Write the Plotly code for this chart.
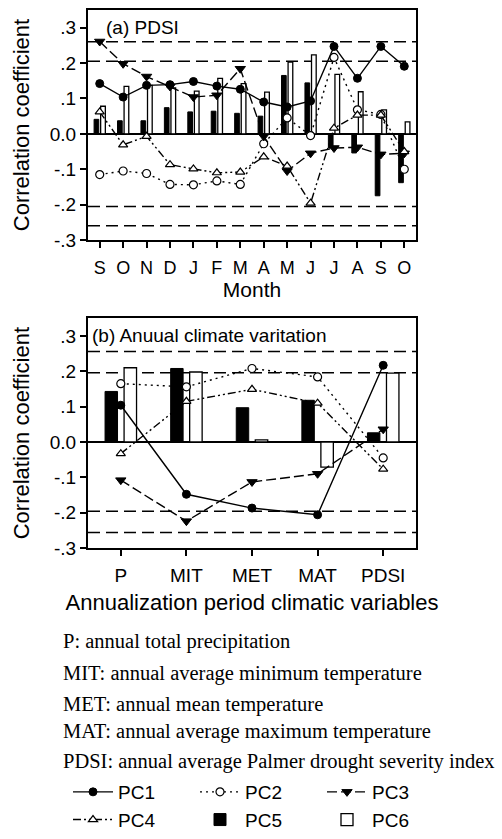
import plotly.graph_objects as go

# ---------------- data ----------------
months = ["S", "O", "N", "D", "J", "F", "M", "A", "M", "J", "J", "A", "S", "O"]
month_idx = list(range(len(months)))

a_pc1 = [0.142, 0.104, 0.137, 0.139, 0.148, 0.135, 0.126, 0.090, 0.076, 0.093, 0.247, 0.157, 0.247, 0.191]
a_pc2 = [-0.115, -0.105, -0.112, -0.143, -0.144, -0.133, -0.143, -0.028, 0.045, -0.005, 0.216, 0.068, 0.055, -0.100]
a_pc3 = [0.261, 0.198, 0.162, 0.134, 0.104, 0.109, 0.184, -0.007, -0.105, -0.055, -0.040, -0.038, -0.058, -0.055]
a_pc4 = [0.062, -0.031, -0.007, -0.087, -0.099, -0.110, -0.108, -0.065, -0.091, -0.196, 0.016, 0.053, 0.053, -0.050]
a_pc5 = [0.041, 0.037, 0.037, 0.074, 0.062, 0.064, 0.058, 0.050, 0.165, 0.144, -0.040, -0.054, -0.175, -0.138]
a_pc6 = [0.078, 0.134, 0.137, 0.130, 0.121, 0.157, 0.142, 0.118, 0.203, 0.223, 0.168, 0.119, 0.068, 0.034]

variables = ["P", "MIT", "MET", "MAT", "PDSI"]
var_idx = list(range(len(variables)))

b_pc1 = [0.104, -0.148, -0.187, -0.206, 0.217]
b_pc2 = [0.165, 0.156, 0.208, 0.184, -0.045]
b_pc3 = [-0.108, -0.224, -0.113, -0.090, 0.036]
b_pc4 = [-0.033, 0.115, 0.149, 0.110, -0.077]
b_pc5 = [0.143, 0.208, 0.097, 0.118, 0.026]
b_pc6 = [0.210, 0.198, 0.006, -0.071, 0.195]

sig_a = [0.26, 0.205, -0.205, -0.26]
sig_b = [0.256, 0.196, -0.196, -0.256]

ytick_vals = [-0.3, -0.2, -0.1, 0.0, 0.1, 0.2, 0.3]
ytick_text = ["-.3", "-.2", "-.1", "0.0", ".1", ".2", ".3"]

notes = [
    "P: annual total precipitation",
    "MIT: annual average minimum temperature",
    "MET: annual mean temperature",
    "MAT: annual average maximum temperature",
    "PDSI: annual average Palmer drought severity index",
]

# ---------------- styles ----------------
SANS = "Liberation Sans, Arial, sans-serif"
SERIF = "Liberation Serif, Times New Roman, serif"

line_styles = {
    "PC1": dict(dash="solid", marker=dict(symbol="circle", size=8, color="black", line=dict(color="black", width=1))),
    "PC2": dict(dash="2px,4px", marker=dict(symbol="circle", size=8, color="white", line=dict(color="black", width=1.2))),
    "PC3": dict(dash="10px,4px", marker=dict(symbol="triangle-down", size=9, color="black", line=dict(color="black", width=1))),
    "PC4": dict(dash="8px,3px,2px,3px,2px,3px", marker=dict(symbol="triangle-up", size=8, color="white", line=dict(color="black", width=1.2))),
}

fig = go.Figure()

def add_panel(x, pcs_lines, pc5, pc6, xa, ya, show, bar_w, off5, off6):
    fig.add_trace(go.Bar(x=x, y=pc5, name="PC5", marker=dict(color="black", line=dict(color="black", width=1)),
                         width=bar_w, offset=off5, xaxis=xa, yaxis=ya, showlegend=show, legendrank=5))
    fig.add_trace(go.Bar(x=x, y=pc6, name="PC6", marker=dict(color="white", line=dict(color="black", width=1.3)),
                         width=bar_w, offset=off6, xaxis=xa, yaxis=ya, showlegend=show, legendrank=6))
    for i, (name, vals) in enumerate(pcs_lines):
        st = line_styles[name]
        fig.add_trace(go.Scatter(x=x, y=vals, mode="lines+markers", name=name,
                                 line=dict(color="black", width=1.4, dash=st["dash"]),
                                 marker=st["marker"], xaxis=xa, yaxis=ya, showlegend=show,
                                 legendrank=i + 1))

add_panel(month_idx, [("PC1", a_pc1), ("PC2", a_pc2), ("PC3", a_pc3), ("PC4", a_pc4)],
          a_pc5, a_pc6, "x", "y", True, 0.2, -0.24, 0.04)
add_panel(var_idx, [("PC1", b_pc1), ("PC2", b_pc2), ("PC3", b_pc3), ("PC4", b_pc4)],
          b_pc5, b_pc6, "x2", "y2", False, 0.19, -0.24, 0.05)

shapes = []
for v in sig_a:
    shapes.append(dict(type="line", xref="x domain", yref="y", x0=0, x1=1, y0=v, y1=v,
                       line=dict(color="black", width=1.5, dash="12px,6px"), layer="below"))
for v in sig_b:
    shapes.append(dict(type="line", xref="x2 domain", yref="y2", x0=0, x1=1, y0=v, y1=v,
                       line=dict(color="black", width=1.5, dash="12px,6px"), layer="below"))

# plot-area geometry in pixels
W, H = 502, 839
ML, MR, MT, MB = 88, 86, 10, 291
PW = W - ML - MR
PH = H - MT - MB

def px_to_paper_x(px):
    return (px - ML) / PW

def px_to_paper_y(py):
    return (H - MB - py) / PH

annotations = [
    dict(text="(a) PDSI", xref="x domain", yref="y domain", x=0.05, y=0.926, xanchor="left", yanchor="middle",
         showarrow=False, font=dict(family=SANS, size=19, color="black")),
    dict(text="(b) Anuual climate varitation", xref="x2 domain", yref="y2 domain", x=0.006, y=0.927,
         xanchor="left", yanchor="middle", showarrow=False, font=dict(family=SANS, size=19, color="black")),
]
note_y = [641.7, 673.3, 704, 731.7, 761.7]
for t, py in zip(notes, note_y):
    annotations.append(dict(text=t, xref="paper", yref="paper", x=px_to_paper_x(61), y=px_to_paper_y(py),
                            xanchor="left", yanchor="middle", showarrow=False,
                            font=dict(family=SERIF, size=20.5, color="black")))

axis_common = dict(showline=True, mirror=True, linecolor="black", linewidth=2, ticks="outside",
                   ticklen=6, tickwidth=1.5, tickcolor="black", showgrid=False,
                   tickfont=dict(family=SANS, size=19, color="black"))

fig.update_layout(
    width=W, height=H,
    margin=dict(l=ML, r=MR, t=MT, b=MB, autoexpand=False),
    paper_bgcolor="white", plot_bgcolor="white",
    barmode="overlay",
    shapes=shapes,
    annotations=annotations,
    showlegend=True,
    legend=dict(orientation="h", x=px_to_paper_x(68), y=px_to_paper_y(773), xanchor="left", yanchor="top",
                entrywidth=72, entrywidthmode="pixels", itemwidth=40, traceorder="normal",
                font=dict(family=SANS, size=19, color="black"), bgcolor="rgba(0,0,0,0)",
                tracegroupgap=0),
    xaxis=dict(domain=[0, 1], anchor="y", range=[-0.5, 13.5], tickmode="array", tickvals=month_idx,
               ticktext=months, zeroline=False, ticklabelstandoff=4,
               title=dict(text="Month", font=dict(family=SANS, size=21, color="black"), standoff=2),
               **{**axis_common, "tickfont": dict(family=SANS, size=18, color="black")}),
    yaxis=dict(domain=[(H - MB - 240) / PH, 1], anchor="x", range=[-0.3, 0.35], tickmode="array",
               tickvals=ytick_vals, ticktext=ytick_text, zeroline=True, zerolinecolor="black", zerolinewidth=1.5,
               title=dict(text="Correlation coefficient", font=dict(family=SANS, size=22, color="black"), standoff=14),
               **axis_common),
    xaxis2=dict(domain=[0, 1], anchor="y2", range=[-0.5, 4.5], tickmode="array", tickvals=var_idx,
                ticktext=variables, zeroline=False, ticklabelstandoff=3,
                title=dict(text="Annualization period climatic variables", font=dict(family=SANS, size=22, color="black"), standoff=10),
                **axis_common),
    yaxis2=dict(domain=[0, (H - MB - 318.3) / PH], anchor="x2", range=[-0.3, 0.35], tickmode="array",
                tickvals=ytick_vals, ticktext=ytick_text, zeroline=True, zerolinecolor="black", zerolinewidth=1.5,
                title=dict(text="Correlation coefficient", font=dict(family=SANS, size=22, color="black"), standoff=14),
                **axis_common),
)

fig.write_html("out.html")
